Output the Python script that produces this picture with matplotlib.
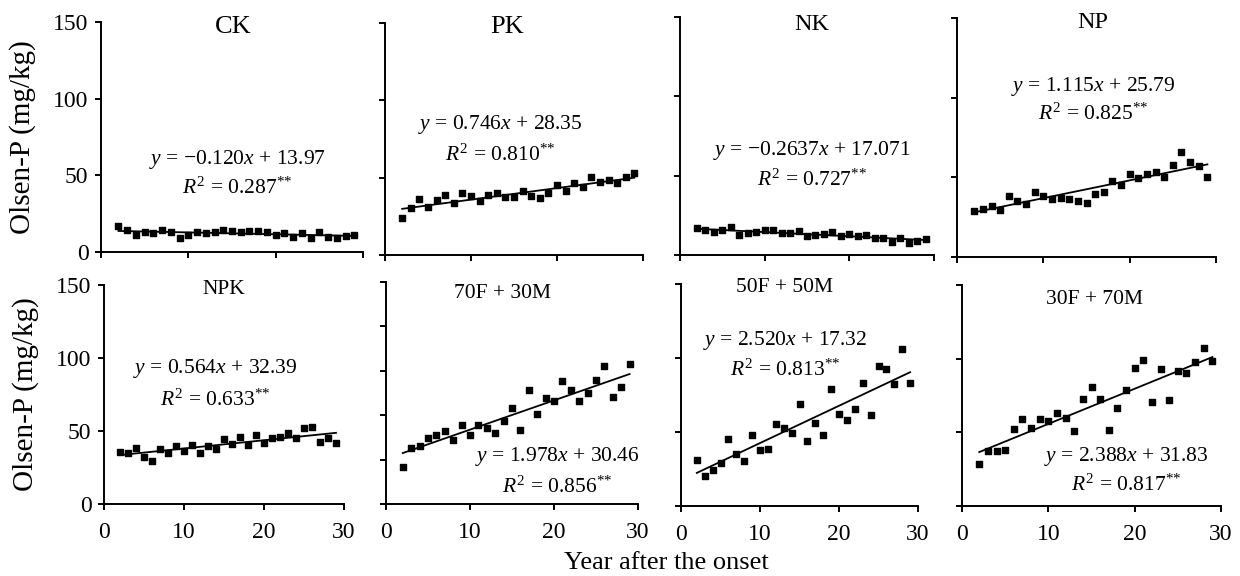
import matplotlib
matplotlib.use("Agg")
import matplotlib.pyplot as plt

plt.rcParams['font.family'] = ['Liberation Serif', 'DejaVu Serif']
plt.rcParams['mathtext.fontset'] = 'custom'
plt.rcParams['mathtext.rm'] = 'Liberation Serif'
plt.rcParams['mathtext.it'] = 'Liberation Serif:italic'

years = [2, 3, 4, 5, 6, 7, 8, 9, 10, 11, 12, 13, 14, 15,
         16, 17, 18, 19, 20, 21, 22, 23, 24, 25, 26, 27, 28, 29]

ck = [16.7, 14.6, 11.1, 12.8, 12.2, 14.6, 13.0, 8.9, 11.3, 13.3, 12.4, 13.0, 14.1, 13.5,
      13.0, 13.9, 13.9, 13.0, 10.9, 12.4, 10.0, 12.4, 9.1, 13.3, 9.8, 9.1, 10.2, 11.1]
pk = [23.7, 30.1, 35.9, 31.2, 35.5, 38.9, 33.3, 39.8, 38.1, 34.8, 39.1, 40.2, 37.2, 37.4,
      41.5, 38.1, 37.0, 40.4, 45.2, 41.5, 46.7, 44.1, 50.5, 47.3, 48.4, 46.7, 50.5, 52.7]
nk = [16.9, 15.9, 14.4, 15.5, 17.6, 12.7, 13.8, 14.4, 15.5, 15.9, 13.8, 13.8, 15.3, 11.7,
      12.7, 13.1, 14.8, 12.1, 13.3, 11.7, 12.7, 10.6, 11.0, 8.5, 10.6, 7.4, 9.1, 10.0]
np_ = [28.8, 29.9, 32.0, 29.5, 38.5, 35.2, 33.1, 40.8, 38.3, 36.2, 37.3, 36.4, 35.2, 34.1,
       39.6, 40.8, 47.4, 45.3, 51.8, 49.5, 52.2, 53.5, 50.0, 57.5, 65.9, 59.4, 56.8, 50.0]
npk = [35.6, 34.7, 38.6, 32.0, 29.5, 37.7, 35.2, 40.0, 36.5, 40.6, 35.2, 40.0, 37.7, 44.3,
       41.3, 45.9, 40.2, 47.3, 41.8, 45.0, 46.1, 48.4, 45.0, 52.3, 53.0, 42.7, 45.0, 42.0]
f70m30 = [25.3, 37.7, 39.5, 44.5, 46.7, 49.4, 43.3, 53.5, 46.7, 53.5, 51.2, 47.9, 55.8, 64.8,
          50.1, 77.2, 60.7, 71.6, 69.3, 82.8, 77.2, 69.3, 74.9, 83.5, 93.0, 72.0, 79.0, 94.6]
f50m50 = [30.9, 20.3, 24.1, 29.1, 45.0, 34.9, 30.4, 48.2, 37.6, 38.7, 55.6, 52.7, 49.3, 68.7,
          43.7, 56.1, 48.2, 78.8, 61.9, 58.3, 65.3, 83.3, 61.3, 94.6, 92.8, 82.7, 106.3, 83.1]
f30m70 = [28.4, 37.3, 37.3, 38.0, 52.0, 59.1, 52.7, 59.1, 57.7, 63.0, 59.5, 50.9, 72.5, 81.1,
          72.5, 51.6, 66.4, 78.9, 93.4, 98.9, 70.5, 93.0, 72.0, 91.4, 90.0, 98.0, 107.5, 98.4]

names = ['CK', 'PK', 'NK', 'NP', 'NPK', '70F + 30M', '50F + 50M', '30F + 70M']
series = [ck, pk, nk, np_, npk, f70m30, f50m50, f30m70]
slopes = [-0.120, 0.746, -0.2637, 1.115, 0.564, 1.978, 2.520, 2.388]
intercepts = [13.97, 28.35, 17.071, 25.79, 32.39, 30.46, 17.32, 31.83]
eq_labels = ['\u22120.120', '0.746', '\u22120.2637', '1.115', '0.564', '1.978', '2.520', '2.388']
int_labels = ['13.97', '28.35', '17.071', '25.79', '32.39', '30.46', '17.32', '31.83']
r2_labels = ['0.287', '0.810', '0.727', '0.825', '0.633', '0.856', '0.813', '0.817']

W, H = 1240, 576
fig = plt.figure(figsize=(W / 100, H / 100), dpi=100)

# axes boxes in pixels: left, right, top, bottom
boxes = [(101, 363, 22, 252), (385, 643, 23, 255), (680, 934, 17, 255), (957, 1216, 18, 257),
         (104, 344, 285, 504), (386, 638, 282, 504), (681, 918, 284, 506), (962, 1221, 285, 506)]
# title centres (x, y, size) and equation centres (x, y1, y2) in pixels
title_pos = [(233, 27, 19), (507, 27, 19), (812, 25, 17.5), (1093, 22, 17.5),
             (224, 289, 15.5), (503, 294, 15.5), (785, 287, 15.5), (1094, 300, 15.5)]
eq_pos = [(237, 159, 188), (500, 125, 155), (812, 150, 180), (1093, 87, 114),
          (215, 369, 400), (557, 456, 487), (785, 340, 370), (1126, 456, 485)]


def px(x, y):
    return x / W, 1 - y / H


for i in range(8):
    l, r, t, b = boxes[i]
    ax = fig.add_axes([l / W, 1 - b / H, (r - l) / W, (b - t) / H])
    ax.scatter(years, series[i], marker='s', s=22, color='black', zorder=3)
    xs = [years[0], years[-1]]
    ax.plot(xs, [slopes[i] * x + intercepts[i] for x in xs], color='black', lw=1.3)
    ax.set_xlim(0, 30)
    ax.set_ylim(0, 150)
    ax.set_xticks([0, 10, 20, 30])
    if i == 5:
        ax.set_yticks([0, 30, 60, 90, 120, 150])
    else:
        ax.set_yticks([0, 50, 100, 150])
    for s in ['top', 'right']:
        ax.spines[s].set_visible(False)
    for s in ['left', 'bottom']:
        ax.spines[s].set_linewidth(1.4)
    ax.tick_params(direction='out', length=4, width=1.4, labelsize=17, pad=5)
    ax.tick_params(axis='x', pad=9)
    if i % 4 != 0:
        ax.set_yticklabels([])
    else:
        ax.set_ylabel('Olsen-P (mg/kg)', fontsize=21, labelpad=12)
    if i < 4:
        ax.set_xticklabels([])
    ax.set_facecolor('none')

    tx, ty, tfs = title_pos[i]
    fig.text(*px(tx, ty), names[i], ha='center', va='center', fontsize=tfs)
    ex, ey1, ey2 = eq_pos[i]
    fig.text(*px(ex, ey1), '$y$ = ' + eq_labels[i] + '$x$ + ' + int_labels[i],
             ha='center', va='center', fontsize=15.5)
    fig.text(*px(ex, ey2), '$R^{2}$ = ' + r2_labels[i] + '$^{{*}{*}}$',
             ha='center', va='center', fontsize=15.5)

fig.text(*px(666, 563), 'Year after the onset', ha='center', va='center', fontsize=19)

fig.savefig('out.png', dpi=100)
